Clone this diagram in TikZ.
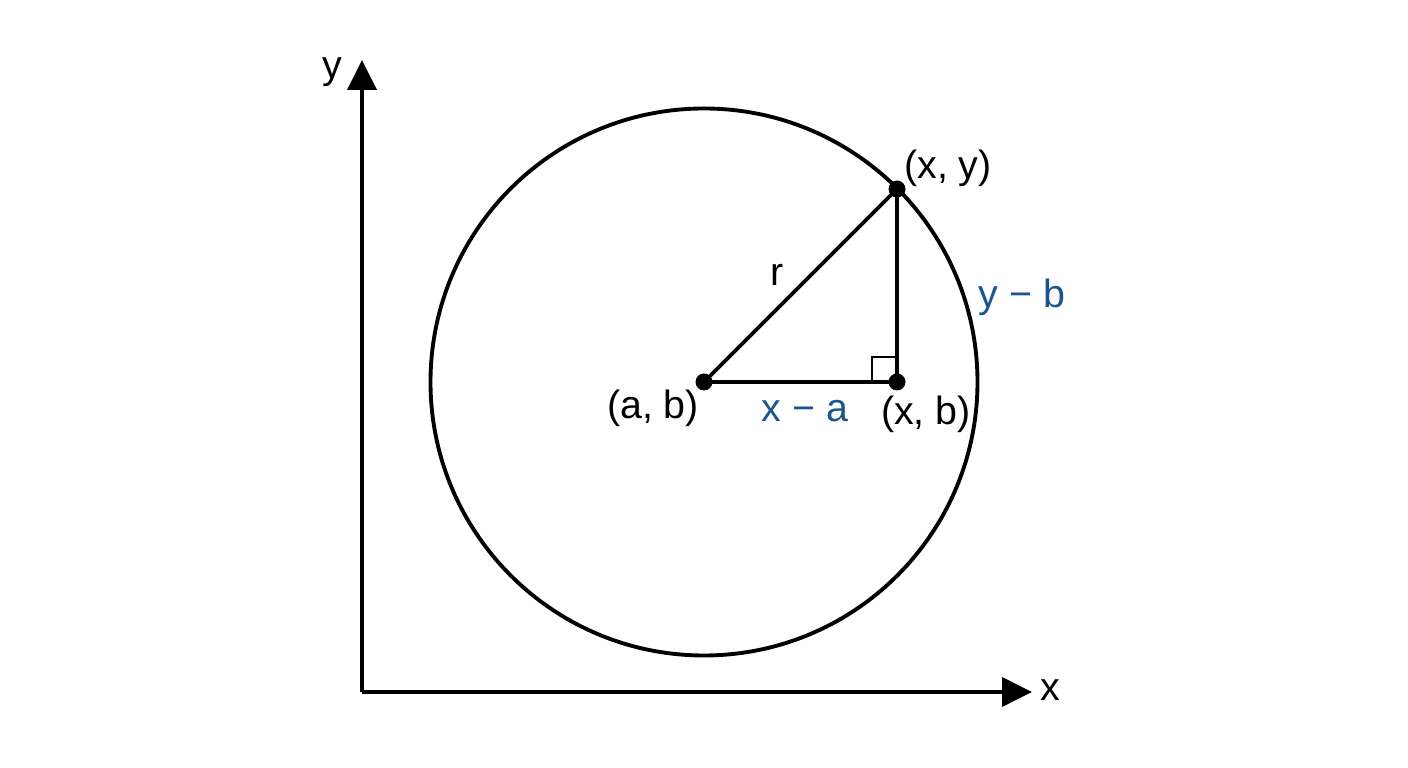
\documentclass[tikz,border=0pt]{standalone}
\usepackage{fontspec}
\setmainfont{Liberation Sans}
\usetikzlibrary{arrows.meta}
\definecolor{diffblue}{RGB}{28,84,140}
\tikzset{
	axisline/.style={line width=1.1pt, -{Triangle[length=0.3cm, width=0.29cm]}},
	dot/.style={circle, fill=black, inner sep=0pt, minimum size=0.17cm},
	lbl/.style={font=\fontsize{11.2}{13}\selectfont, inner sep=1pt},
	difflbl/.style={lbl, text=diffblue},
}

\begin{document}
\begin{tikzpicture}
			%%%%% START %%%%%
			\useasboundingbox (0, 0) rectangle (14.08, 7.68);
			
			\coordinate (origin) at (3.62, 0.76);
			\coordinate (ytip) at (3.62, 7.08);
			\coordinate (xtip) at (10.32, 0.76);
			\draw[axisline] (origin) -- (ytip);
			\draw[axisline] (origin) -- (xtip);
			\node[lbl] (ylabel) at (3.32, 6.96) {y};
			\node[lbl] (xlabel) at (10.50, 0.78) {x};
			
			\coordinate (center) at (7.04, 3.86);
			\draw[line width=1.1pt] (center) circle (2.735);
			
			\node[dot] (ab) at (7.04, 3.86) {};
			\node[dot] (xy) at (8.97, 5.79) {};
			\node[dot] (xb) at (8.97, 3.86) {};
			
			\draw[line width=1.1pt] (ab.center) -- (xy.center) -- (xb.center) -- cycle;
			\draw[line width=0.8pt] (8.72, 3.86) rectangle (8.97, 4.11);
			
			\node[lbl] (ablabel) at (6.53, 3.60) {(a, b)};
			\node[lbl] (xylabel) at (9.48, 6.00) {(x, y)};
			\node[lbl] (xblabel) at (9.26, 3.54) {(x, b)};
			\node[lbl] (rlabel) at (7.77, 4.93) {r};
			\node[difflbl] (xalabel) at (8.05, 3.57) {x − a};
			\node[difflbl] (yblabel) at (10.22, 4.71) {y − b};
			
			%%%%% END %%%%%
\end{tikzpicture}
\end{document}
